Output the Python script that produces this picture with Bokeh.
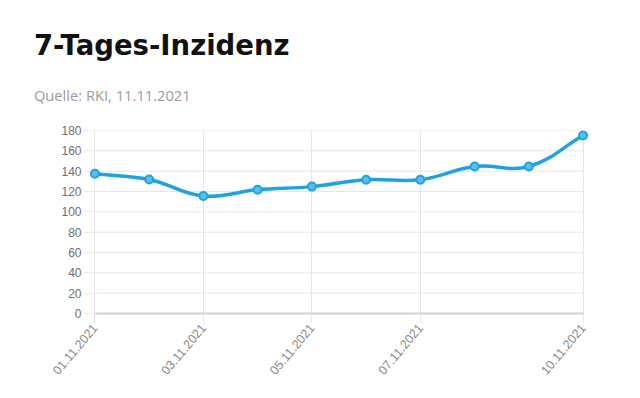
import numpy as np
from bokeh.plotting import figure
from bokeh.models import Title, FixedTicker, Range1d
from bokeh.embed import file_html
from bokeh.resources import INLINE

dates = ["01.11.2021", "02.11.2021", "03.11.2021", "04.11.2021", "05.11.2021",
         "06.11.2021", "07.11.2021", "08.11.2021", "09.11.2021", "10.11.2021"]
values = [137.4, 131.8, 115.6, 121.8, 124.8, 131.6, 131.6, 144.6, 144.6, 175.0]
tick_idx = [0, 2, 4, 6, 9]
y_ticks = list(range(0, 181, 20))

title_text = "7-Tages-Inzidenz"
subtitle_text = "Quelle: RKI, 11.11.2021"

W, H = 640, 398
PAD = 0.1
STEP = 54.33
L, R, B = 94 - PAD * STEP, 57 - PAD * STEP, 85
BLUE = "#1fa3e0"
GRID = "#e6e6e6"

n = len(dates)
p = figure(width=W, height=H, output_backend="svg", toolbar_location=None, title=None,
           x_range=Range1d(-PAD, n - 1 + PAD), y_range=Range1d(0, 180),
           min_border_left=int(round(L)), min_border_right=int(round(R)),
           min_border_top=130, min_border_bottom=B)
p.outline_line_color = None
p.background_fill_color = "white"
p.border_fill_color = "white"

# vertical grid via grid, horizontal grid via segments over the data span
p.xgrid.ticker = FixedTicker(ticks=tick_idx)
p.xgrid.grid_line_color = GRID
p.ygrid.grid_line_color = None
p.segment(x0=[-PAD] * len(y_ticks), x1=[n - 1] * len(y_ticks), y0=y_ticks, y1=y_ticks,
          line_color=GRID, line_width=1)

# axes
xa = p.xaxis[0]
xa.ticker = FixedTicker(ticks=tick_idx)
xa.bounds = (0, n - 1)
xa.major_label_overrides = {i: dates[i] for i in tick_idx}
xa.major_label_orientation = 0.87
xa.axis_line_color = "#d2d2d2"
xa.axis_line_width = 2
xa.major_tick_line_color = GRID
xa.major_tick_out = 9
xa.major_tick_in = 0
xa.minor_tick_line_color = None
xa.major_label_text_font = "Liberation Sans"
xa.major_label_text_font_size = "12.5px"
xa.major_label_text_color = "#888888"
xa.major_label_standoff = 3

ya = p.yaxis[0]
ya.ticker = FixedTicker(ticks=y_ticks)
ya.axis_line_color = None
ya.major_tick_line_color = GRID
ya.major_tick_out = 5
ya.major_tick_in = 0
ya.minor_tick_line_color = None
ya.major_label_text_font = "Liberation Sans"
ya.major_label_text_font_size = "12px"
ya.major_label_text_color = "#6e6e6e"
ya.major_label_standoff = 3

# smooth line (Chart.js style spline, tension 0.4) via bezier segments
fh = 183.0
sx = STEP
sy = fh / 180.0
xs = np.arange(n, dtype=float)
ys = np.array(values, dtype=float)
tension = 0.4
cp_prev_x = xs.copy(); cp_prev_y = ys.copy()
cp_next_x = xs.copy(); cp_next_y = ys.copy()
for i in range(n):
    pi_ = max(i - 1, 0); ni = min(i + 1, n - 1)
    d01 = np.hypot((xs[i] - xs[pi_]) * sx, (ys[i] - ys[pi_]) * sy)
    d12 = np.hypot((xs[ni] - xs[i]) * sx, (ys[ni] - ys[i]) * sy)
    tot = d01 + d12
    s01 = d01 / tot if tot else 0
    s12 = d12 / tot if tot else 0
    fa = tension * s01
    fb = tension * s12
    dx = xs[ni] - xs[pi_]
    dy = ys[ni] - ys[pi_]
    cp_prev_x[i] = xs[i] - fa * dx
    cp_prev_y[i] = ys[i] - fa * dy
    cp_next_x[i] = xs[i] + fb * dx
    cp_next_y[i] = ys[i] + fb * dy

p.bezier(x0=xs[:-1], y0=ys[:-1], x1=xs[1:], y1=ys[1:],
         cx0=cp_next_x[:-1], cy0=cp_next_y[:-1], cx1=cp_prev_x[1:], cy1=cp_prev_y[1:],
         line_color=BLUE, line_width=3.5)
p.scatter(xs, ys, size=8, fill_color="#5bbdec", line_color=BLUE, line_width=2)

# titles: added first = closest to the frame
sub = Title(text=subtitle_text, text_font="Open Sans", text_font_style="normal",
            text_font_size="14.7px", text_color="#9a9a9a", align="left",
            vertical_align="top", offset=33 - L, standoff=48)
main = Title(text=title_text, text_font="DejaVu Sans", text_font_style="bold",
             text_font_size="27.5px", text_color="#111111", align="left",
             offset=33 - L, standoff=0)
p.add_layout(sub, "above")
p.add_layout(main, "above")

open("out.html", "w").write(file_html(p, INLINE))
